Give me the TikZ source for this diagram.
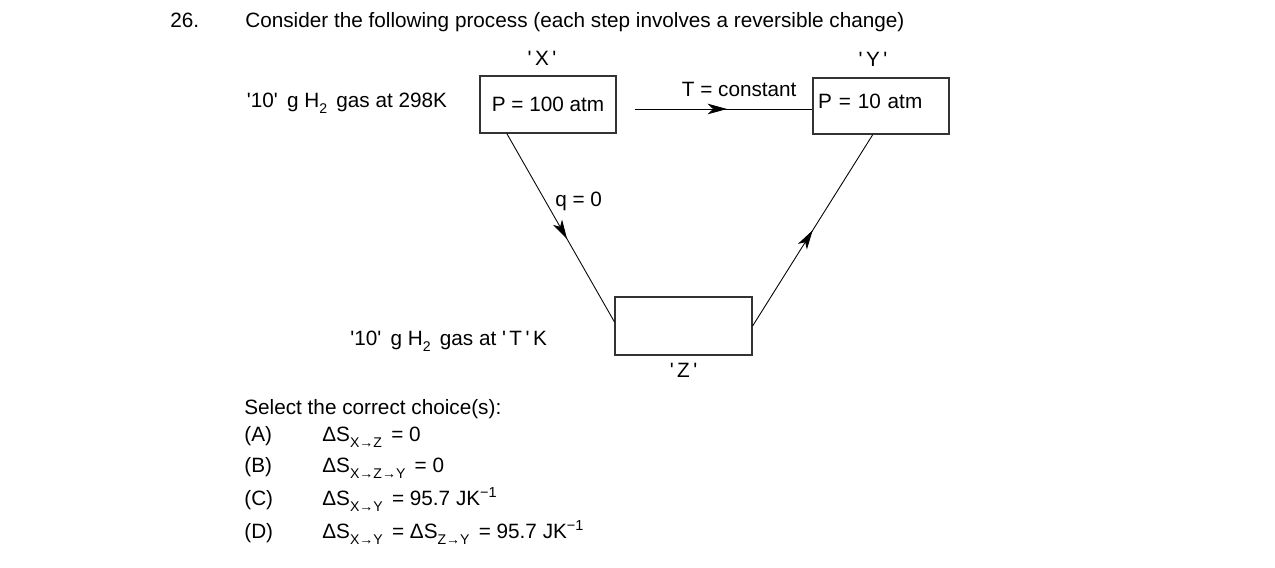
\documentclass[tikz,border=0pt]{standalone}
\usepackage{fontspec}
\setmainfont{Liberation Sans}[Ligatures=TeXOff]
\usepackage{tikz}
\usetikzlibrary{positioning, arrows.meta, calc, decorations.markings}
\newcommand{\lowtext}[1]{\raisebox{-0.55ex}{\fontsize{8}{8}\selectfont #1}}
\tikzset{statebox/.style={draw=black!80, line width=0.7pt, minimum width=2.72cm, minimum height=1.14cm, inner sep=0pt},
txt/.style={anchor=base west, inner sep=0pt},
tag/.style={anchor=base, inner sep=0pt},
flow/.style={line width=0.5pt, postaction={decorate},
  decoration={markings, mark=at position #1 with {\arrow{Stealth[length=11pt, width=6pt, inset=3pt]}}}},
flow/.default=0.5}

\begin{document}
\begin{tikzpicture}[x=0.02cm, y=-0.02cm, font=\fontsize{11.8}{14}\selectfont]
  \fill[white] (0,0) rectangle (1275,568);
  % question
  \node[txt] (num) at (170,28) {26.};
  \node[txt] (head) at (245,28) {Consider the following process (each step involves a reversible change)};
  % states
  \node[statebox] (x) at (548,104.5) {P = 100 atm};
  \node[statebox, minimum height=1.12cm, align=left, text width=2.52cm, inner xsep=0.1cm, text depth=0.2cm] (y) at (881,106) {P = 10 atm};
  \node[statebox, minimum width=2.74cm, minimum height=1.16cm] (z) at (683.5,326) {};
  \node[tag] (xl) at (542,65) {'\,X\,'};
  \node[tag] (yl) at (873,66) {'\,Y\,'};
  \node[below=0.14cm of z, inner sep=0pt] (zl) {'\,Z\,'};
  \node[txt] (hot) at (246.5,107.7) {'10'\, g H\lowtext{2}\, gas at 298K};
  \node[txt] (cold) at (350,345) {'10'\, g H\lowtext{2}\, gas at '\,T\,'\,K};
  % paths
  \draw[flow=0.52] ($(x.east |- y.west)+(18,3)$) -- ($(y.west)+(0,3)$);
  \node[txt] (iso) at (681.5,96) {T = constant};
  \draw[flow=0.56] ($(x.south west)!0.2!(x.south east)$) -- ($(z.north west)!0.43!(z.south west)$);
  \node[txt] (adi) at (555,206.7) {q = 0};
  \draw[flow=0.5] (z.east) -- ($(y.south west)!0.44!(y.south east)$);
  % choices
  \node[txt] (sel) at (244,414) {Select the correct choice(s):};
  \node[txt] (ca) at (244,441) {(A)};
  \node[txt] (cb) at (244,472) {(B)};
  \node[txt] (cc) at (244,505) {(C)};
  \node[txt] (cd) at (244,538) {(D)};
  \node[txt] (ea) at (322,441) {ΔS\lowtext{X→Z}\, = 0};
  \node[txt] (eb) at (322,472) {ΔS\lowtext{X→Z→Y}\, = 0};
  \node[txt] (ec) at (322,505) {ΔS\lowtext{X→Y}\, = 95.7 JK\textsuperscript{−1}};
  \node[txt] (ed) at (322,538) {ΔS\lowtext{X→Y}\, = ΔS\lowtext{Z→Y}\, = 95.7 JK\textsuperscript{−1}};
\end{tikzpicture}
\end{document}
